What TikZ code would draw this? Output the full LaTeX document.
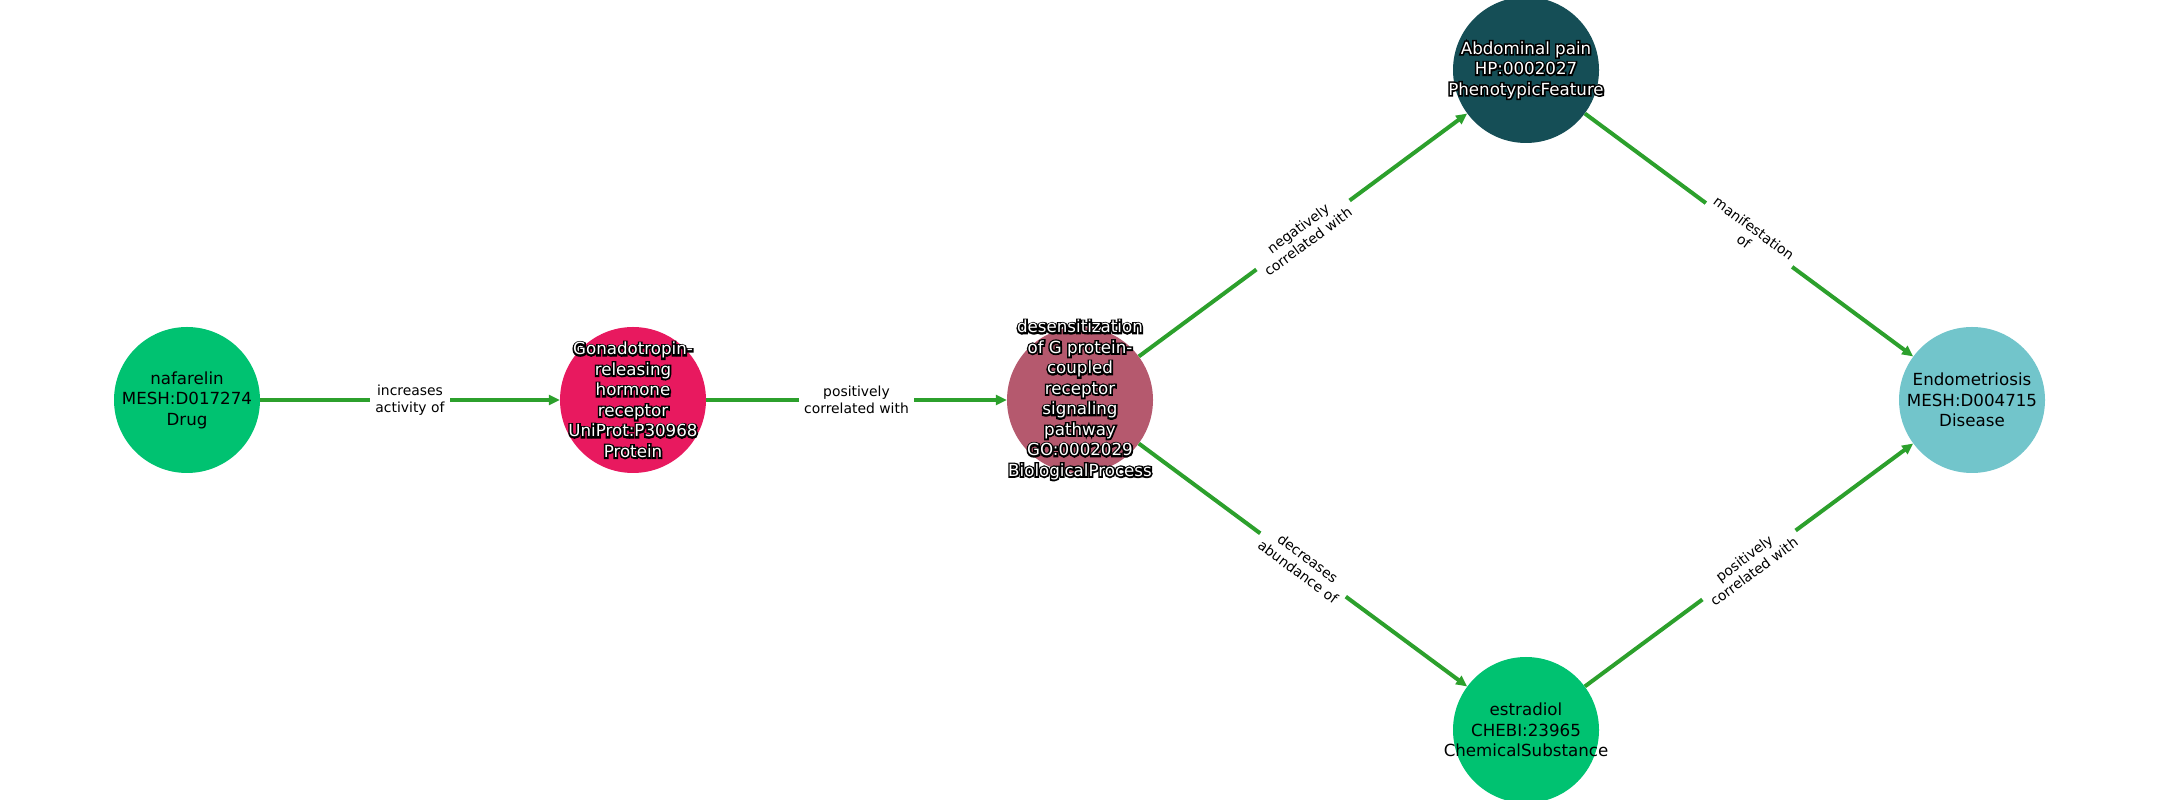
\documentclass[tikz,border=0pt]{standalone}
\usepackage{fontspec}
\setmainfont{DejaVu Sans}
\usetikzlibrary{arrows.meta}
\definecolor{cgreen}{HTML}{00C271}
\definecolor{cpink}{HTML}{E8195F}
\definecolor{crose}{HTML}{B5596E}
\definecolor{cteal}{HTML}{154E56}
\definecolor{clight}{HTML}{72C5CB}
\definecolor{cedge}{HTML}{2CA02C}
\tikzset{
  ent/.style={circle, minimum size=146pt, inner sep=0pt, draw=none},
  lbl/.style={align=center, inner sep=0pt, font=\fontsize{16.67}{20.5}\selectfont},
  rel/.style={draw=cedge, line width=4pt, -{Triangle[length=11pt,width=10pt]}},
  rlbl/.style={midway, sloped, fill=white, align=center, inner xsep=5.5pt, inner ysep=4pt, font=\fontsize{13.9}{16.5}\selectfont, text=black}
}
% outline (stroke-only) copy in black, then the white text on top
\newcommand\halolabel[2]{%
  \node[lbl, text=black] at (#1) {\special{pdf:literal direct 1 Tr 3.2 w}#2\special{pdf:literal direct 0 Tr 0.4 w}};
  \node[lbl, text=white] at (#1) {#2};
}
\begin{document}
\begin{tikzpicture}[x=1pt,y=1pt]
\useasboundingbox (0,0) rectangle (2160,800);
\node[ent, fill=cgreen] (naf) at (187,400) {};
\node[ent, fill=cpink] (gnrh) at (633,400) {};
\node[ent, fill=crose] (des) at (1080,400) {};
\node[ent, fill=cteal] (abd) at (1526,730) {};
\node[ent, fill=cgreen] (est) at (1526,70) {};
\node[ent, fill=clight] (endo) at (1972,400) {};

\draw[rel] (naf) -- node[rlbl] {increases\\activity of} (gnrh);
\draw[rel] (gnrh) -- node[rlbl] {positively\\correlated with} (des);
\draw[rel] (des) -- node[rlbl] {negatively\\correlated with} (abd);
\draw[rel] (des) -- node[rlbl] {decreases\\abundance of} (est);
\draw[rel] (abd) -- node[rlbl] {manifestation\\of} (endo);
\draw[rel] (est) -- node[rlbl] {positively\\correlated with} (endo);

\node[lbl, text=black] at (naf) {nafarelin\\MESH:D017274\\Drug};
\node[lbl, text=black] at (endo) {Endometriosis\\MESH:D004715\\Disease};
\node[lbl, text=black] at (est) {estradiol\\CHEBI:23965\\ChemicalSubstance};
\halolabel{gnrh}{Gonadotropin-\\releasing\\hormone\\receptor\\UniProt:P30968\\Protein}
\halolabel{des}{desensitization\\of G protein-\\coupled\\receptor\\signaling\\pathway\\GO:0002029\\BiologicalProcess}
\halolabel{abd}{Abdominal pain\\HP:0002027\\PhenotypicFeature}
\end{tikzpicture}
\end{document}
